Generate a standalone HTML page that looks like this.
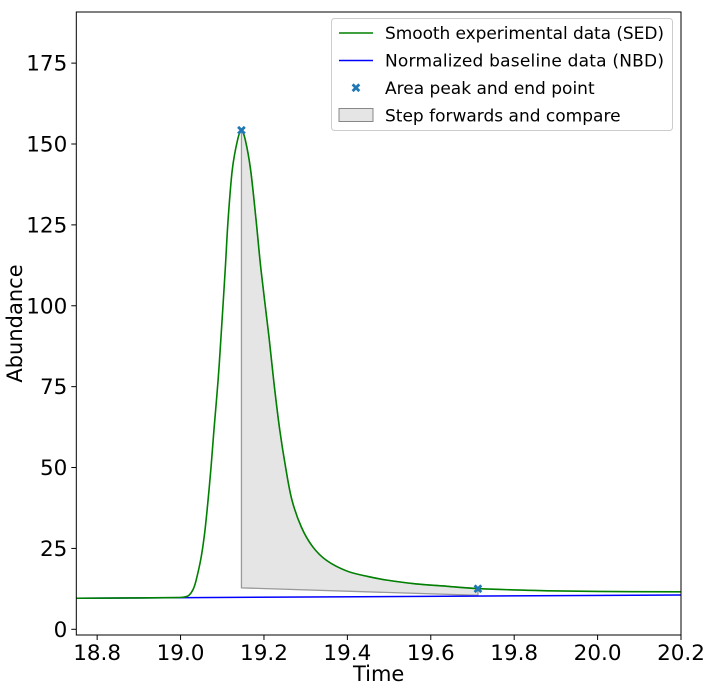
<!DOCTYPE html>
<html><head><meta charset="utf-8"><style>
body{margin:0;background:#fff;font-family:"Liberation Sans","DejaVu Sans",sans-serif}
svg text{font-family:"DejaVu Sans","Liberation Sans",sans-serif}
</style></head><body>
<svg id="c" width="710" height="691" xmlns="http://www.w3.org/2000/svg"></svg>
<script>
const sedTime=[18.75,18.9,18.99,19.01,19.02,19.03,19.037,19.049,19.058,19.066,19.073,19.08,19.09,19.097,19.107,19.114,19.124,19.137,19.146,19.155,19.168,19.181,19.193,19.212,19.225,19.238,19.252,19.267,19.29,19.317,19.35,19.399,19.45,19.495,19.56,19.639,19.713,19.85,20.0,20.2];
const sedValue=[9.6,9.7,9.8,10.0,10.5,12.3,15,22,30,40,50,61.5,77,90.4,111,126.6,142,151.4,154.1,151.4,142,126.6,111,90.4,75,61.5,50,40,31.5,25.5,21.3,18.0,16.3,15.2,14.1,13.3,12.6,12.0,11.7,11.6];
const nbdTime=[18.75,20.2];
const nbdValue=[9.6,10.6];
const markTime=[19.146,19.713];
const markValue=[154.1,12.4];
const areaBase=[12.8,10.5];
const xTicks=[18.8,19.0,19.2,19.4,19.6,19.8,20.0,20.2];
const xTickLabels=["18.8","19.0","19.2","19.4","19.6","19.8","20.0","20.2"];
const yTicks=[0,25,50,75,100,125,150,175];
const yTickLabels=["0","25","50","75","100","125","150","175"];

const L=76.3,R=681,T=12,B=635,X0=18.75,X1=20.2;
const x=t=>L+(t-X0)/(X1-X0)*(R-L);
const y=v=>629.3-v*(629.3-144)/150;
const svg=document.getElementById('c');
const NS="http://www.w3.org/2000/svg";
function mk(tag,attrs,parent){const e=document.createElementNS(NS,tag);for(const k in attrs)e.setAttribute(k,attrs[k]);(parent||svg).appendChild(e);return e;}
function smooth(P){let d="M"+P[0][0]+","+P[0][1];for(let i=0;i<P.length-1;i++){const p0=P[Math.max(0,i-1)],p1=P[i],p2=P[i+1],p3=P[Math.min(P.length-1,i+2)];const c1=[p1[0]+(p2[0]-p0[0])/6,p1[1]+(p2[1]-p0[1])/6],c2=[p2[0]-(p3[0]-p1[0])/6,p2[1]-(p3[1]-p1[1])/6];d+=` C${c1[0]},${c1[1]} ${c2[0]},${c2[1]} ${p2[0]},${p2[1]}`;}return d;}

const sedP=sedTime.map((t,i)=>[x(t),y(sedValue[i])]);
let sub=[];
for(let i=0;i<sedTime.length;i++){if(sedTime[i]>=markTime[0]-1e-9&&sedTime[i]<=markTime[1]+1e-9)sub.push(sedP[i]);}
let ad=smooth(sub)+` L${x(markTime[1])},${y(areaBase[1])} L${x(markTime[0])},${y(areaBase[0])} Z`;
const area=mk('path',{d:ad,fill:'#e5e5e5',stroke:'#999',"stroke-width":1.3});



const nbd=mk('polyline',{points:nbdTime.map((t,i)=>x(t)+","+y(nbdValue[i])).join(' '),fill:'none',stroke:'#0000ff',"stroke-width":1.5});


const sed=mk('path',{d:smooth(sedP),fill:'none',stroke:'#008000',"stroke-width":1.6,"stroke-linejoin":"round"});


for(let i=0;i<markTime.length;i++){
  const m=mk('text',{x:x(markTime[i]),y:y(markValue[i])+4.5,"text-anchor":"middle","font-size":13,fill:'#1f77b4',"font-weight":"bold"});
  m.textContent='✖';
  
  
}
const box=mk('rect',{x:L,y:T,width:R-L,height:B-T,fill:'none',stroke:'#000',"stroke-width":1});


xTicks.forEach((t,i)=>{
  mk('line',{x1:x(t),x2:x(t),y1:B,y2:B+5,stroke:'#000'});
  const tx=mk('text',{x:x(t),y:B+25,"text-anchor":"middle","font-size":21.5});
  tx.textContent=xTickLabels[i];
  
  
});
yTicks.forEach((v,i)=>{
  mk('line',{x1:L-5,x2:L,y1:y(v),y2:y(v),stroke:'#000'});
  const tx=mk('text',{x:L-9,y:y(v)+7.5,"text-anchor":"end","font-size":21.5});
  tx.textContent=yTickLabels[i];
  
  
});
const xt=mk('text',{x:(L+R)/2,y:681,"text-anchor":"middle","font-size":21});xt.textContent='Time';


const yt=mk('text',{x:0,y:0,"text-anchor":"middle","font-size":21,transform:`translate(22,${(T+B)/2}) rotate(-90)`});yt.textContent='Abundance';


const lg=mk('g',{});


mk('rect',{x:331.5,y:18.5,width:341,height:112,rx:3,fill:'#fff',stroke:'#ccc',"fill-opacity":0.8},lg);
const labels=['Smooth experimental data (SED)','Normalized baseline data (NBD)','Area peak and end point','Step forwards and compare'];
labels.forEach((s,i)=>{
  const cy=33+i*27.5;
  if(i<2)mk('line',{x1:339,x2:373,y1:cy,y2:cy,stroke:i==0?'#008000':'#0000ff',"stroke-width":1.5},lg);
  else if(i==2){const m=mk('text',{x:356,y:cy+4.5,"text-anchor":"middle","font-size":13,fill:'#1f77b4',"font-weight":"bold"},lg);m.textContent='✖';}
  else mk('rect',{x:339,y:cy-7,width:34,height:13,fill:'#e5e5e5',stroke:'#888'},lg);
  const t=mk('text',{x:385,y:cy+6,"font-size":17,"textLength":s.length>26?279:0},lg);t.textContent=s;
  if(!(s.length>26))t.removeAttribute('textLength');
  
  
});
</script>
</body></html>
